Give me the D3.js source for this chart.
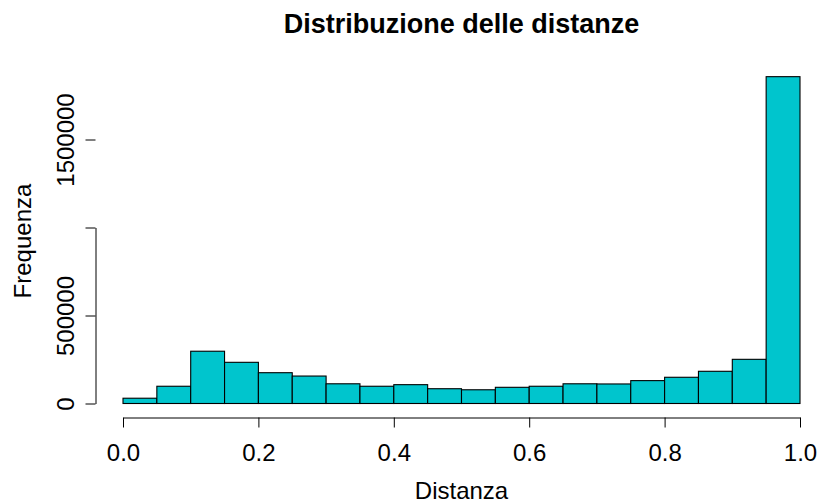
<!DOCTYPE html>
<html>
<head>
<meta charset="utf-8">
<script src="https://cdn.jsdelivr.net/npm/d3@7"></script>
<style>
  html, body { margin: 0; padding: 0; background: #fff; }
  svg text { font-family: "Liberation Sans", Arial, Helvetica, sans-serif; fill: #000; }
</style>
</head>
<body>
<svg id="chart" width="822" height="504"></svg>
<script>
// Histogram bins: lower edges, bin width and counts
const binStarts = [0.00, 0.05, 0.10, 0.15, 0.20, 0.25, 0.30, 0.35, 0.40, 0.45,
                   0.50, 0.55, 0.60, 0.65, 0.70, 0.75, 0.80, 0.85, 0.90, 0.95];
const binWidth = 0.05;
const counts = [30000, 98000, 297000, 234000, 175000, 156000, 112000, 98000, 107000, 84000,
                78000, 92000, 98000, 112000, 111000, 130000, 149000, 183000, 251000, 1857000];
const xTicks = [0.0, 0.2, 0.4, 0.6, 0.8, 1.0];
const yTicks = [0, 500000, 1000000, 1500000];
const yTickLabels = ["0", "500000", "", "1500000"];

const title = "Distribuzione delle distanze";
const xLabel = "Distanza";
const yLabel = "Frequenza";

const svg = d3.select("#chart");

const x = d3.scaleLinear().domain([0, 1]).range([123, 800]);
const y = d3.scaleLinear().domain([0, 1000000]).range([403.5, 227.5]);

// Bars
svg.append("g")
  .selectAll("rect")
  .data(binStarts)
  .join("rect")
  .attr("x", (d) => x(d))
  .attr("width", (d) => x(d + binWidth) - x(d))
  .attr("y", (d, i) => y(counts[i]))
  .attr("height", (d, i) => y(0) - y(counts[i]))
  .attr("fill", "#00C5CD")
  .attr("stroke", "#000")
  .attr("stroke-width", 1.1);

// X axis
const xAxis = d3.axisBottom(x)
  .tickValues(xTicks)
  .tickFormat(d3.format(".1f"))
  .tickSize(10)
  .tickSizeOuter(0);
const gx = svg.append("g")
  .attr("transform", "translate(0,417.5)")
  .call(xAxis);
gx.select(".domain").attr("stroke", "#000").attr("stroke-width", 1);
gx.selectAll(".tick line").attr("stroke", "#000");
gx.selectAll(".tick text")
  .attr("font-size", 24)
  .attr("dy", null)
  .attr("y", 43)
  .attr("font-family", "Liberation Sans, Arial, sans-serif");

// Y axis
const yAxis = d3.axisLeft(y)
  .tickValues(yTicks)
  .tickFormat((d, i) => yTickLabels[i])
  .tickSize(10)
  .tickSizeOuter(0);
const gy = svg.append("g")
  .attr("transform", "translate(95.5,0)")
  .call(yAxis);
gy.select(".domain").attr("stroke", "#000").attr("stroke-width", 1);
gy.selectAll(".tick line").attr("stroke", "#000");
gy.selectAll(".tick text")
  .attr("font-size", 24)
  .attr("x", null)
  .attr("dy", null)
  .attr("text-anchor", "middle")
  .attr("transform", "translate(-22,0) rotate(-90)")
  .attr("font-family", "Liberation Sans, Arial, sans-serif");

// Titles
svg.append("text")
  .attr("x", 461.5)
  .attr("y", 33)
  .attr("text-anchor", "middle")
  .attr("font-size", 27)
  .attr("font-weight", "bold")
  .text(title);

svg.append("text")
  .attr("x", 461.5)
  .attr("y", 499)
  .attr("text-anchor", "middle")
  .attr("font-size", 24)
  .text(xLabel);

svg.append("text")
  .attr("transform", "translate(31,241) rotate(-90)")
  .attr("text-anchor", "middle")
  .attr("font-size", 24)
  .text(yLabel);
</script>
</body>
</html>
